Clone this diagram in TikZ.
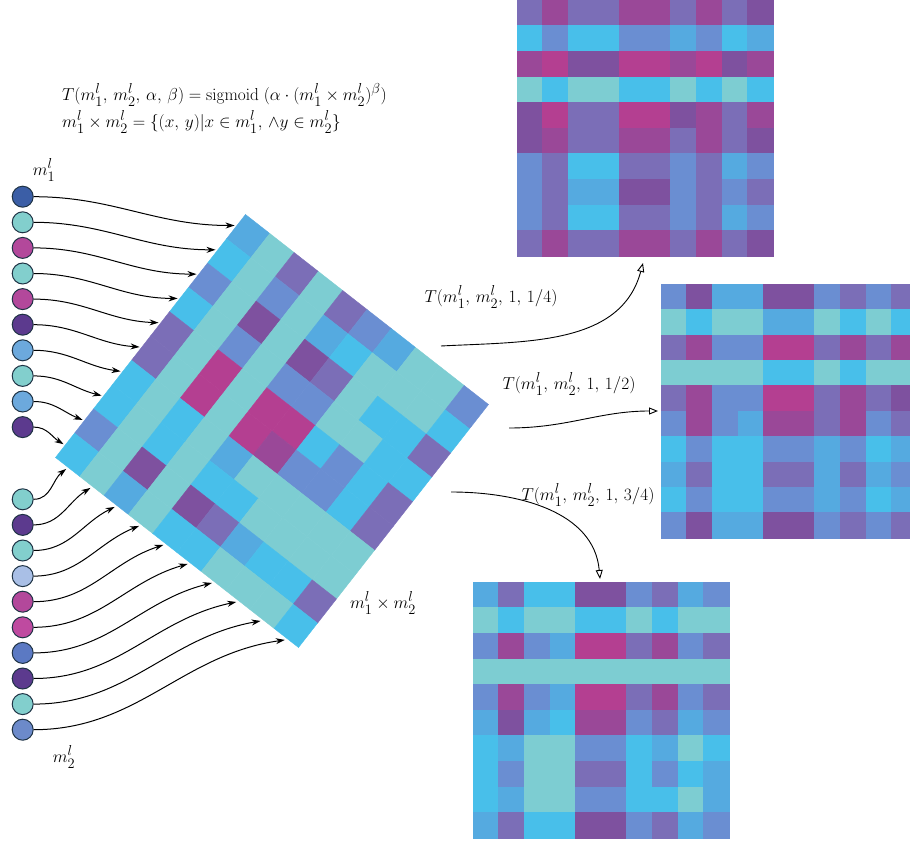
\documentclass[tikz,border=0pt]{standalone}
\usepackage{amsmath}
\usetikzlibrary{arrows.meta}
% cell palette
\definecolor{cT}{HTML}{7DCDD2}
\definecolor{cC}{HTML}{48BFEA}
\definecolor{cL}{HTML}{55AAE0}
\definecolor{cB}{HTML}{6A8ED2}
\definecolor{cV}{HTML}{7B6EB7}
\definecolor{cP}{HTML}{7E519F}
\definecolor{cM}{HTML}{9A4898}
\definecolor{cK}{HTML}{B43F91}
% dot palette
\definecolor{dDb}{HTML}{3B5EA6}
\definecolor{dTe}{HTML}{82CFCD}
\definecolor{dMg}{HTML}{B3489B}
\definecolor{dMh}{HTML}{BF4AA0}
\definecolor{dDp}{HTML}{5C3A8E}
\definecolor{dLb}{HTML}{6CA9DD}
\definecolor{dPw}{HTML}{A9BFE6}
\definecolor{dMb}{HTML}{5B79C3}
\definecolor{dMc}{HTML}{6C8ACA}
\definecolor{dEdge}{HTML}{1F3345}
\newcommand\cellgrid[1]{%
  \foreach \row [count=\i] in {#1} {
    \foreach \c [count=\j] in \row {
      \path[fill=c\c, draw=c\c, line width=0.4pt]
        (\j-1,\i-1) -- (\j,\i-1) -- (\j,\i) -- (\j-1,\i) -- cycle;
    }
  }%
}
\begin{document}
\begin{tikzpicture}[x=1pt,y=-1pt,
  dot/.style={circle, draw=dEdge, line width=1pt, minimum size=21pt, inner sep=0pt},
  arr/.style={draw=black, line width=1pt, -{Stealth[length=9pt,width=6pt]}},
  oarr/.style={draw=black, line width=0.9pt, -{Triangle[open,length=9pt,width=7pt]}},
  lbl/.style={font=\fontsize{19}{22}\selectfont, inner sep=0pt}]
\useasboundingbox (0,0) rectangle (910,842);
\clip (0,0) rectangle (910,842);

% ---------- rotated product grid ----------
\begin{scope}[shift={(245.5,214.5)}, x={(24.3pt,-19pt)}, y={(-19pt,-24.3pt)}]
  \cellgrid{{L,T,V,T,V,B,L,T,T,B},{C,T,B,T,L,C,T,T,T,C},{B,T,P,T,P,V,T,C,C,V},{C,T,B,T,B,B,T,T,C,C},{V,T,K,T,K,K,C,B,C,V},{V,T,K,T,K,M,B,B,C,V},{C,T,C,T,L,T,T,T,T,T},{C,T,C,T,C,C,T,T,T,T},{B,T,P,T,P,V,L,C,C,V},{C,T,L,T,C,C,T,T,T,C}}
  \foreach \i in {1,...,10} {
    \coordinate (p\i) at (-0.06,\i-0.5);
    \coordinate (q\i) at (\i-0.5,10.08);
  }
\end{scope}

% ---------- T grids ----------
\begin{scope}[shift={(517,0)}, x={(25.6pt,0pt)}, y={(0pt,-25.6pt)}]
  \cellgrid{{V,M,V,V,M,M,V,M,V,P},{C,B,C,C,B,B,L,B,C,L},{M,K,P,P,K,K,M,K,P,M},{T,C,T,T,C,C,T,C,T,C},{P,K,V,V,K,K,P,M,V,M},{P,M,V,V,M,M,V,M,V,P},{B,V,C,C,V,V,B,V,L,B},{B,V,L,L,P,P,B,V,B,V},{B,V,C,C,V,V,B,V,L,B},{V,M,V,V,M,M,V,M,V,P}}
\end{scope}
\begin{scope}[shift={(661,284)}, x={(25.6pt,0pt)}, y={(0pt,-25.4pt)}]
  \cellgrid{{B,P,L,L,P,P,B,V,B,V},{T,C,T,T,L,L,T,C,T,C},{V,M,B,B,K,K,V,M,V,M},{T,T,T,T,C,C,T,C,T,T},{V,M,B,B,K,K,V,M,V,P},{B,M,B,L,M,M,V,M,B,V},{C,B,C,C,B,B,L,B,C,L},{L,V,C,C,V,V,L,V,L,B},{C,B,C,C,B,B,L,B,C,L},{B,P,L,L,P,P,B,V,B,V}}
\end{scope}
\begin{scope}[shift={(473,582)}, x={(25.6pt,0pt)}, y={(0pt,-25.6pt)}]
  \cellgrid{{L,V,C,C,P,P,B,V,L,B},{T,C,T,T,C,C,T,C,T,T},{B,M,B,L,K,K,V,M,B,V},{T,T,T,T,T,T,T,T,T,T},{B,M,B,L,K,K,V,M,B,V},{L,P,L,C,M,M,B,V,L,B},{C,L,T,T,B,B,C,L,T,C},{C,B,T,T,V,V,C,B,C,L},{C,L,T,T,B,B,C,C,T,L},{L,V,C,C,P,P,B,V,L,B}}
\end{scope}

% ---------- input dots ----------
\foreach \col [count=\i] in {dDb,dTe,dMg,dTe,dMg,dDp,dLb,dTe,dLb,dDp}
  \node[dot, fill=\col] (a\i) at (22.7,{196.7+25.6*(\i-1)}) {};
\foreach \col [count=\i] in {dTe,dDp,dTe,dPw,dMg,dMh,dMb,dDp,dTe,dMc}
  \node[dot, fill=\col] (b\i) at (22.7,{499.3+25.6*(\i-1)}) {};

% ---------- input arrows ----------
\foreach \i/\ang in {1/180,2/180,3/180,4/180,5/178,6/176,7/172,8/166,9/158,10/148}
  \draw[arr] (a\i) to[out=0,in=\ang] (p\i);
\foreach \i/\ang in {1/218,2/212,3/206,4/202,5/198,6/196,7/194,8/192,9/190,10/188}
  \draw[arr] (b\i) to[out=0,in=\ang] (q\i);

% ---------- output arrows ----------
\coordinate (s1) at (441,346); \coordinate (t1) at (643,263);
\coordinate (s2) at (509,428); \coordinate (t2) at (658,411);
\coordinate (s3) at (451,492); \coordinate (t3) at (600,579);
\draw[oarr] (s1) to[out=3,in=-105] (t1);
\draw[oarr] (s2) to[out=0,in=180] (t2);
\draw[oarr] (s3) to[out=0,in=95] (t3);

% ---------- texts ----------
\node[lbl, anchor=west] (f1) at (62,95) {$T(m_1^l,\, m_2^l,\, \alpha,\, \beta) = \mathrm{sigmoid}\;(\alpha\cdot(m_1^l\times m_2^l)^\beta)$};
\node[lbl, anchor=west] (f2) at (62,122) {$m_1^l\times m_2^l = \{(x,\, y)|x\in m_1^l,\, \wedge y\in m_2^l\}$};
\node[lbl] (n1) at (44,170) {$m_1^l$};
\node[lbl] (n2) at (64,757) {$m_2^l$};
\node[lbl] (nx) at (383,603) {$m_1^l\times m_2^l$};
\node[lbl] (l1) at (491,297) {$T(m_1^l,\, m_2^l,\, 1,\, 1/4)$};
\node[lbl] (l2) at (569,384) {$T(m_1^l,\, m_2^l,\, 1,\, 1/2)$};
\node[lbl] (l3) at (588,495) {$T(m_1^l,\, m_2^l,\, 1,\, 3/4)$};
\end{tikzpicture}
\end{document}
